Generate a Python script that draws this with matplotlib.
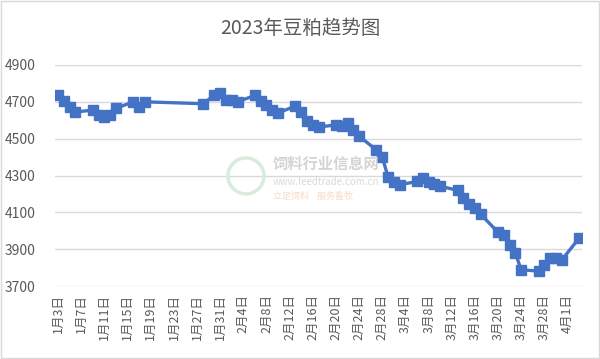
import pandas as pd
import matplotlib
matplotlib.use('Agg')
import matplotlib.pyplot as plt
import matplotlib.dates as mdates
from matplotlib.patches import Rectangle, Ellipse

plt.rcParams['font.family'] = ['Noto Sans CJK SC', 'DejaVu Sans']

# soybean meal price, 2023
dates = ['2023-01-03', '2023-01-04', '2023-01-05', '2023-01-06',
         '2023-01-09', '2023-01-10', '2023-01-11', '2023-01-12', '2023-01-13',
         '2023-01-16', '2023-01-17', '2023-01-18',
         '2023-01-28', '2023-01-30', '2023-01-31', '2023-02-01', '2023-02-02', '2023-02-03',
         '2023-02-06', '2023-02-07', '2023-02-08', '2023-02-09', '2023-02-10',
         '2023-02-13', '2023-02-14', '2023-02-15', '2023-02-16', '2023-02-17',
         '2023-02-20', '2023-02-21', '2023-02-22', '2023-02-23', '2023-02-24',
         '2023-02-27', '2023-02-28', '2023-03-01', '2023-03-02', '2023-03-03',
         '2023-03-06', '2023-03-07', '2023-03-08', '2023-03-09', '2023-03-10',
         '2023-03-13', '2023-03-14', '2023-03-15', '2023-03-16', '2023-03-17',
         '2023-03-20', '2023-03-21', '2023-03-22', '2023-03-23', '2023-03-24',
         '2023-03-27', '2023-03-28', '2023-03-29', '2023-03-30', '2023-03-31',
         '2023-04-03']
prices = [4735, 4705, 4670, 4645,
          4655, 4630, 4618, 4628, 4665,
          4700, 4672, 4700,
          4690, 4735, 4750, 4710, 4708, 4700,
          4735, 4703, 4683, 4655, 4640,
          4677, 4645, 4596, 4575, 4563,
          4575, 4570, 4585, 4547, 4514,
          4438, 4400, 4292, 4264, 4250,
          4268, 4286, 4264, 4253, 4242,
          4220, 4177, 4145, 4123, 4090,
          3992, 3976, 3922, 3878, 3788,
          3782, 3813, 3851, 3851, 3842,
          3960]
tick_dates = pd.date_range('2023-01-03', '2023-04-01', freq='4D')
yticks = [3700, 3900, 4100, 4300, 4500, 4700, 4900]

x = pd.to_datetime(dates)
grey = '#595959'

fig = plt.figure(figsize=(6, 3.59), dpi=100)
fig.patches.append(Rectangle((0.002, 0.003), 0.996, 0.994, transform=fig.transFigure,
                             fill=False, edgecolor='#d9d9d9', linewidth=1))
ax = fig.add_axes([0.092, 0.203, 0.878, 0.616])

# faint watermark
fig.text(0.455, 0.53, '饲料行业信息网', fontsize=11, color='#d4d4d4', fontweight='bold')
fig.text(0.455, 0.485, 'www.feedtrade.com.cn', fontsize=7, color='#dadada')
fig.text(0.455, 0.445, '立足饲料    服务畜牧', fontsize=6.5, color='#f7dcc6')
fig.patches.append(Ellipse((0.41, 0.51), 0.06, 0.06 * 600 / 359, transform=fig.transFigure,
                           fill=False, edgecolor='#d8ecdd', linewidth=2.5))

ax.plot(x, prices, color='#4472c4', linewidth=2.4, marker='s', markersize=6.5, zorder=3)

ax.set_ylim(3700, 4900)
ax.set_yticks(yticks)
ax.set_xlim(mdates.date2num(pd.Timestamp('2023-01-02 12:00')),
            mdates.date2num(pd.Timestamp('2023-04-03 12:00')))
ax.set_xticks(tick_dates)
ax.set_xticklabels([f'{d.month}月{d.day}日' for d in tick_dates], rotation=90)
ax.grid(axis='y', color='#d9d9d9', linewidth=1)
ax.set_axisbelow(True)
for s in ax.spines.values():
    s.set_visible(False)
ax.tick_params(length=0, colors=grey, labelsize=9)
ax.tick_params(axis='y', labelsize=10, pad=14)
ax.tick_params(axis='x', pad=6)

fig.suptitle('2023年豆粕趋势图', fontsize=14, color=grey, y=0.95)

fig.savefig('out.png', dpi=100)
